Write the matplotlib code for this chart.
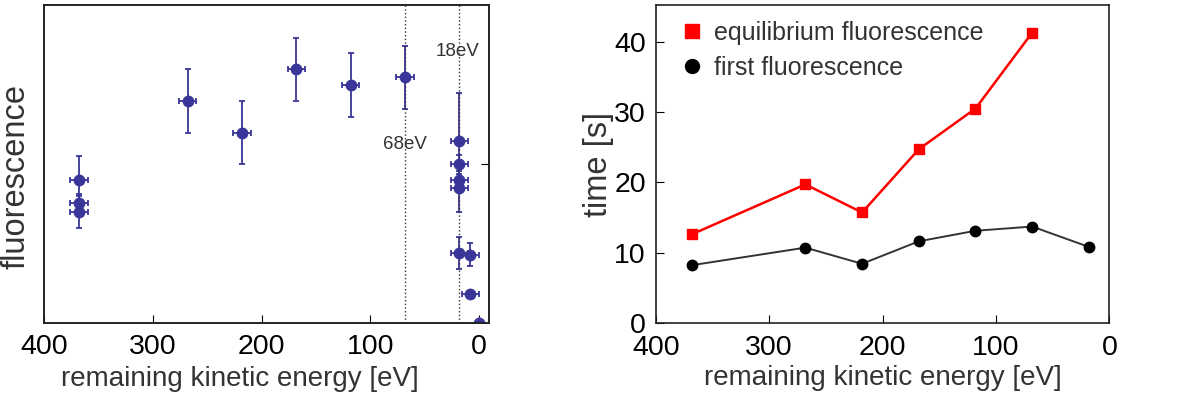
import matplotlib
matplotlib.use('Agg')
import matplotlib.pyplot as plt

plt.rcParams['font.family'] = ['Liberation Sans', 'DejaVu Sans']

# left panel: fluorescence vs remaining kinetic energy (arb. units)
fl_energy = [368, 368, 368, 268, 218, 168, 118, 68, 18, 18, 18, 18, 18, 8, 8, 0]
fl_value = [0.449, 0.376, 0.349, 0.699, 0.599, 0.798, 0.749, 0.773,
            0.574, 0.499, 0.449, 0.425, 0.220, 0.215, 0.090, 0.0]
fl_yerr = [0.075, 0.03, 0.05, 0.10, 0.10, 0.10, 0.10, 0.10,
           0.15, 0.03, 0.03, 0.076, 0.051, 0.035, 0.0, 0.0]
fl_xerr = [8, 8, 8, 8, 8, 8, 8, 8, 8, 8, 8, 8, 8, 8, 8, 0]
marker_lines = [68, 18]
marker_labels = ['68eV', '18eV']

# right panel: times
t_energy = [368, 268, 218, 168, 118, 68, 18]
t_equilibrium = [12.6, 19.7, 15.7, 24.7, 30.5, 41.3]
t_first = [8.2, 10.7, 8.4, 11.6, 13.1, 13.7, 10.8]

blue = '#3a3699'
txt = '#333333'

fig = plt.figure(figsize=(11.9, 4.03), dpi=100)
ax1 = fig.add_axes([0.037, 0.199, 0.3742, 0.788])
ax2 = fig.add_axes([0.551, 0.199, 0.3812, 0.788])

ax1.errorbar(fl_energy, fl_value, yerr=fl_yerr, xerr=fl_xerr, fmt='o',
             color=blue, ms=7.5, elinewidth=1.3, capsize=2.5, capthick=1.3)
for xv in marker_lines:
    ax1.axvline(xv, color='#333333', ls=':', lw=1.0)
ax1.text(68, 0.56, marker_labels[0], ha='center', va='center', fontsize=13.5, color=txt)
ax1.text(20, 0.855, marker_labels[1], ha='center', va='center', fontsize=13.5, color=txt)
ax1.set_xlim(400, -9.5)
ax1.set_ylim(0, 1)
ax1.set_xticks([400, 300, 200, 100, 0])
ax1.set_yticks([])
ax1.set_xlabel('remaining kinetic energy [eV]', fontsize=20, color=txt)
ax1.xaxis.set_label_coords(0.44, -0.135)
ax1.set_ylabel('fluorescence', fontsize=23.5, color=txt)
ax1.yaxis.set_label_coords(-0.028, 0.46)
ax1.tick_params(axis='x', direction='in', length=6, labelsize=20.5, pad=8)
ax1r = ax1.twinx()
ax1r.set_ylim(0, 1)
ax1r.set_yticks([0.5])
ax1r.set_yticklabels([])
ax1r.tick_params(direction='in', length=6)

ax2.plot(t_energy[:len(t_equilibrium)], t_equilibrium, 's-', color='#ff0000',
         ms=7, lw=1.8)
ax2.plot(t_energy, t_first, 'o-', color='#333333', mfc='black', mec='black',
         ms=7.5, lw=1.4)
# legend entries show markers only
h1, = ax2.plot([], [], 's', color='#ff0000', ms=9.5)
h2, = ax2.plot([], [], 'o', color='black', ms=10)
ax2.set_xlim(400, 0)
ax2.set_ylim(0, 45.2)
ax2.set_xticks([400, 300, 200, 100, 0])
ax2.set_yticks([0, 10, 20, 30, 40])
ax2.set_xlabel('remaining kinetic energy [eV]', fontsize=20, color=txt, labelpad=3)
ax2.set_ylabel('time [s]', fontsize=23.5, color=txt, labelpad=0)
ax2.tick_params(direction='in', length=6, labelsize=20.5)
ax2.tick_params(axis='x', pad=9)
ax2.tick_params(axis='y', pad=7)
ax2.legend([h1, h2], ['equilibrium fluorescence', 'first fluorescence'],
           loc='upper left', bbox_to_anchor=(0.03, 0.99), frameon=False,
           fontsize=18, handlelength=0.8, handletextpad=0.5,
           labelspacing=0.45, borderaxespad=0.1, labelcolor=txt)

for a in (ax1, ax2, ax1r):
    for s in a.spines.values():
        s.set_color('#222222')
        s.set_linewidth(1.2)

plt.savefig('out.png', dpi=100)
